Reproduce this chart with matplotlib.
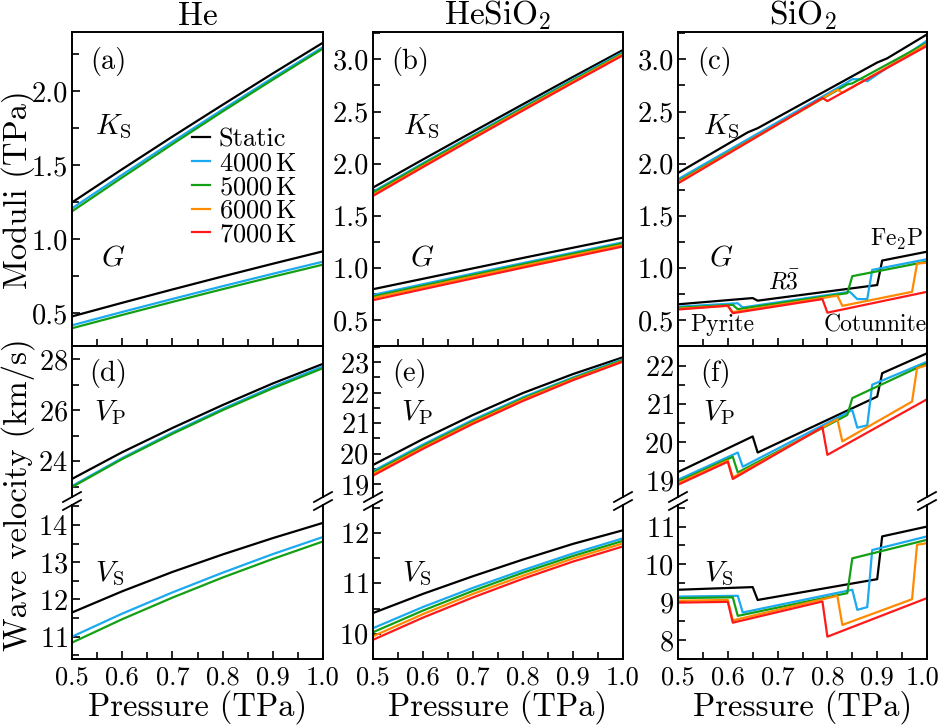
import matplotlib
matplotlib.use("Agg")
import matplotlib.pyplot as plt
import matplotlib.transforms as mtransforms
from matplotlib.lines import Line2D
from matplotlib.ticker import MultipleLocator, FormatStrFormatter

plt.rcParams['font.family'] = 'serif'
plt.rcParams['font.serif'] = ['cmr10']
plt.rcParams['mathtext.fontset'] = 'cm'
plt.rcParams['axes.formatter.use_mathtext'] = True

labels = ["Static", "4000$\\,$K", "5000$\\,$K", "6000$\\,$K", "7000$\\,$K"]
colors = ["black", "#1ba9f0", "#14a014", "#ff8a00", "#ff1a1a"]

pressure = [0.5, 0.6, 0.7, 0.8, 0.9, 1.0]

# He: static, 4000 K, 5000 K
he_ks = [[1.25, 1.475, 1.695, 1.91, 2.122, 2.33],
         [1.21, 1.437, 1.66, 1.878, 2.092, 2.30],
         [1.19, 1.419, 1.644, 1.865, 2.08, 2.29]]
he_g = [[0.48, 0.572, 0.662, 0.75, 0.836, 0.92],
        [0.42, 0.51, 0.598, 0.684, 0.768, 0.85],
        [0.40, 0.49, 0.578, 0.664, 0.748, 0.83]]
he_vp = [[23.3, 24.35, 25.3, 26.2, 27.05, 27.82],
         [23.02, 24.12, 25.12, 26.05, 26.92, 27.72],
         [22.98, 24.08, 25.07, 26.0, 26.86, 27.65]]
he_vs = [[11.65, 12.22, 12.74, 13.21, 13.65, 14.06],
         [11.0, 11.62, 12.19, 12.72, 13.22, 13.68],
         [10.84, 11.47, 12.05, 12.59, 13.09, 13.56]]

# HeSiO2: static, 4000, 5000, 6000, 7000 K
hesio2_ks = [[1.77, 2.04, 2.306, 2.57, 2.832, 3.09],
             [1.73, 2.004, 2.274, 2.542, 2.808, 3.07],
             [1.72, 1.994, 2.264, 2.532, 2.798, 3.06],
             [1.70, 1.977, 2.25, 2.52, 2.787, 3.05],
             [1.69, 1.967, 2.24, 2.51, 2.777, 3.04]]
hesio2_g = [[0.795, 0.895, 0.995, 1.095, 1.193, 1.29],
            [0.74, 0.843, 0.945, 1.046, 1.146, 1.245],
            [0.725, 0.829, 0.932, 1.034, 1.135, 1.235],
            [0.71, 0.814, 0.917, 1.019, 1.12, 1.22],
            [0.69, 0.795, 0.899, 1.002, 1.104, 1.205]]
hesio2_vp = [[19.63, 20.48, 21.27, 21.99, 22.61, 23.16],
             [19.43, 20.30, 21.11, 21.85, 22.50, 23.10],
             [19.38, 20.25, 21.06, 21.81, 22.47, 23.07],
             [19.33, 20.20, 21.02, 21.77, 22.44, 23.04],
             [19.28, 20.16, 20.98, 21.73, 22.41, 23.02]]
hesio2_vs = [[10.41, 10.79, 11.14, 11.47, 11.78, 12.05],
             [10.11, 10.53, 10.91, 11.26, 11.59, 11.89],
             [10.03, 10.46, 10.85, 11.21, 11.54, 11.84],
             [9.95, 10.39, 10.79, 11.15, 11.49, 11.79],
             [9.88, 10.32, 10.72, 11.09, 11.43, 11.73]]

# SiO2: (pressure, value) points, phase transitions give jumps
sio2_ks = [[(0.5, 1.91), (0.64, 2.30), (0.66, 2.34), (0.90, 2.97), (0.92, 3.01), (1.0, 3.24)],
           [(0.5, 1.85), (0.84, 2.78), (0.85, 2.81), (0.87, 2.81), (0.88, 2.79), (1.0, 3.18)],
           [(0.5, 1.83), (0.84, 2.76), (0.85, 2.77), (1.0, 3.16)],
           [(0.5, 1.82), (0.82, 2.71), (0.83, 2.68), (0.97, 3.06), (0.98, 3.09), (1.0, 3.15)],
           [(0.5, 1.81), (0.79, 2.63), (0.80, 2.60), (1.0, 3.13)]]
sio2_g = [[(0.5, 0.65), (0.65, 0.71), (0.66, 0.685), (0.90, 0.835), (0.91, 1.07), (1.0, 1.155)],
          [(0.5, 0.627), (0.62, 0.66), (0.63, 0.62), (0.845, 0.77), (0.86, 0.70), (0.88, 0.70), (0.89, 0.98), (1.0, 1.083)],
          [(0.5, 0.617), (0.61, 0.645), (0.62, 0.603), (0.84, 0.757), (0.85, 0.92), (1.0, 1.06)],
          [(0.5, 0.607), (0.60, 0.635), (0.61, 0.575), (0.82, 0.733), (0.83, 0.635), (0.97, 0.77), (0.98, 1.04), (1.0, 1.05)],
          [(0.5, 0.60), (0.60, 0.637), (0.61, 0.565), (0.79, 0.70), (0.80, 0.57), (1.0, 0.77)]]
sio2_vp = [[(0.5, 19.22), (0.65, 20.15), (0.66, 19.73), (0.90, 21.19), (0.91, 21.80), (1.0, 22.32)],
           [(0.5, 19.02), (0.62, 19.73), (0.63, 19.36), (0.85, 20.84), (0.86, 20.38), (0.88, 20.44), (0.89, 21.50), (1.0, 22.10)],
           [(0.5, 18.97), (0.61, 19.62), (0.62, 19.21), (0.84, 20.71), (0.85, 21.15), (1.0, 22.06)],
           [(0.5, 18.93), (0.60, 19.52), (0.61, 19.08), (0.82, 20.60), (0.83, 20.02), (0.97, 21.06), (0.98, 21.93), (1.0, 22.01)],
           [(0.5, 18.89), (0.60, 19.49), (0.61, 19.04), (0.79, 20.39), (0.80, 19.67), (1.0, 21.12)]]
sio2_vs = [[(0.5, 9.33), (0.65, 9.40), (0.66, 9.06), (0.90, 9.61), (0.91, 10.74), (1.0, 11.0)],
           [(0.5, 9.15), (0.62, 9.17), (0.63, 8.73), (0.85, 9.33), (0.86, 8.80), (0.88, 8.87), (0.89, 10.38), (1.0, 10.74)],
           [(0.5, 9.11), (0.61, 9.13), (0.62, 8.64), (0.84, 9.24), (0.85, 10.16), (1.0, 10.65)],
           [(0.5, 9.04), (0.60, 9.06), (0.61, 8.52), (0.82, 9.17), (0.83, 8.40), (0.97, 9.08), (0.98, 10.52), (1.0, 10.56)],
           [(0.5, 8.99), (0.60, 9.01), (0.61, 8.46), (0.79, 9.02), (0.80, 8.09), (1.0, 9.11)]]

titles = ["He", "HeSiO$_2$", "SiO$_2$"]

W, H = 942.0, 725.0
fig = plt.figure(figsize=(9.42, 7.25), dpi=100)

cols = [(72, 251), (373, 250), (678, 249)]
top_row = (32.3, 346)
vp_row = (346, 497)
vs_row = (505, 659)


def add_ax(col, row):
    x0, w = col
    y0, y1 = row
    return fig.add_axes([x0 / W, 1 - y1 / H, w / W, (y1 - y0) / H])


def style(ax, left_major, left_minor):
    ax.tick_params(which='both', direction='in', top=False, right=False, labelsize=20.5, width=1.2, pad=3)
    ax.tick_params(which='major', length=5.5)
    ax.tick_params(which='minor', length=5)
    ax.xaxis.set_major_locator(MultipleLocator(0.1))
    ax.xaxis.set_minor_locator(MultipleLocator(0.05))
    ax.yaxis.set_major_locator(MultipleLocator(left_major))
    ax.yaxis.set_minor_locator(MultipleLocator(left_minor))
    for s in ax.spines.values():
        s.set_linewidth(1.4)
    ax.set_xlim(0.5, 1.0)


def draw_smooth(ax, series):
    for i, vals in enumerate(series):
        ax.plot(pressure, vals, color=colors[i], lw=1.6, label=labels[i])


def draw_pts(ax, series):
    for i, pts in enumerate(series):
        ax.plot([p[0] for p in pts], [p[1] for p in pts], color=colors[i], lw=1.6, label=labels[i])


top_data = [(he_ks, he_g), (hesio2_ks, hesio2_g), (sio2_ks, sio2_g)]
vp_data = [he_vp, hesio2_vp, sio2_vp]
vs_data = [he_vs, hesio2_vs, sio2_vs]
top_ylims = [(0.28, 2.40), (0.25, 3.26), (0.25, 3.26)]
vp_ylims = [(22.59, 28.52), (18.58, 23.53), (18.57, 22.51)]
vs_ylims = [(10.4, 14.54), (9.5, 12.55), (7.5, 11.57)]
vp_ticks = [(2, 1), (1, 0.5), (1, 0.5)]
vs_ticks = [(1, 0.5), (1, 0.5), (1, 0.5)]
panel_letters = [("(a)", "(d)"), ("(b)", "(e)"), ("(c)", "(f)")]
lab_x = [0.143, 0.148, 0.149]
ks_x = [0.165, 0.195, 0.175]
v_x = [0.15, 0.175, 0.162]

bottom_axes = []
for c in range(3):
    draw = draw_pts if c == 2 else draw_smooth

    ax = add_ax(cols[c], top_row)
    style(ax, 0.5, 0.25)
    draw(ax, top_data[c][0])
    draw(ax, top_data[c][1])
    ax.set_ylim(*top_ylims[c])
    ax.yaxis.set_major_formatter(FormatStrFormatter('%.1f'))
    ax.tick_params(labelbottom=False)
    ax.set_title(titles[c], fontsize=24, pad=5)
    ax.text(lab_x[c], 0.906, panel_letters[c][0], transform=ax.transAxes, fontsize=20.5, ha='center', va='center')
    ax.text(ks_x[c], 0.70, "$K_\\mathrm{S}$", transform=ax.transAxes, fontsize=21, ha='center', va='center')
    ax.text(ks_x[c], 0.28, "$G$", transform=ax.transAxes, fontsize=21, ha='center', va='center')
    if c == 0:
        handles = [Line2D([], [], color=colors[i], lw=1.6) for i in range(5)]
        ax.legend(handles, labels, loc='upper left', bbox_to_anchor=(0.48, 0.695), frameon=False,
                  fontsize=19, handlelength=0.65, handletextpad=0.35, labelspacing=0.0, borderpad=0,
                  borderaxespad=0)
    if c == 2:
        ax.text(0.878, 0.34, "Fe$_2$P", transform=ax.transAxes, fontsize=17, ha='center', va='center')
        ax.text(0.423, 0.205, "$R\\bar{3}$", transform=ax.transAxes, fontsize=17, ha='center', va='center')
        ax.text(0.178, 0.067, "Pyrite", transform=ax.transAxes, fontsize=17, ha='center', va='center')
        ax.text(0.791, 0.067, "Cotunnite", transform=ax.transAxes, fontsize=17, ha='center', va='center')

    axp = add_ax(cols[c], vp_row)
    style(axp, *vp_ticks[c])
    draw(axp, vp_data[c])
    axp.set_ylim(*vp_ylims[c])
    axp.spines['bottom'].set_visible(False)
    axp.tick_params(axis='x', which='both', bottom=False, labelbottom=False)
    axp.text(lab_x[c], 0.82, panel_letters[c][1], transform=axp.transAxes, fontsize=20.5, ha='center', va='center')
    axp.text(v_x[c], 0.56, "$V_\\mathrm{P}$", transform=axp.transAxes, fontsize=21, ha='center', va='center')

    axs = add_ax(cols[c], vs_row)
    style(axs, *vs_ticks[c])
    draw(axs, vs_data[c])
    axs.set_ylim(*vs_ylims[c])
    axs.spines['top'].set_visible(False)
    axs.xaxis.set_major_formatter(FormatStrFormatter('%.1f'))
    axs.tick_params(axis='x', pad=5, labelsize=19)
    axs.text(v_x[c], 0.556, "$V_\\mathrm{S}$", transform=axs.transAxes, fontsize=21, ha='center', va='center')
    bottom_axes.append(axs)

    # break marks on both spines
    x0, w = cols[c]
    for xs in (x0, x0 + w):
        for ys in (vp_row[1], vs_row[0]):
            Y = H - ys
            fig.lines.append(Line2D([(xs - 9) / W, (xs + 9) / W], [(Y - 5) / H, (Y + 5) / H],
                                    transform=fig.transFigure, color='black', lw=1.3))

    fig.text((x0 + w / 2) / W, 1 - 707 / H, "Pressure (TPa)", fontsize=23.5, ha='center', va='center')

fig.text(18 / W, 1 - 190 / H, "Moduli (TPa)", fontsize=23.5, rotation=90, ha='center', va='center')
fig.text(18 / W, 1 - 495 / H, "Wave velocity (km/s)", fontsize=23.5, rotation=90, ha='center', va='center')

# keep the last "1.0" label inside the figure edge
fig.canvas.draw()
last = bottom_axes[2].xaxis.get_major_ticks()
for t in last:
    if t.label1.get_text() == "1.0":
        t.label1.set_transform(t.label1.get_transform() +
                               mtransforms.ScaledTranslation(-4 / 100, 0, fig.dpi_scale_trans))

fig.savefig("out.png", dpi=100)
